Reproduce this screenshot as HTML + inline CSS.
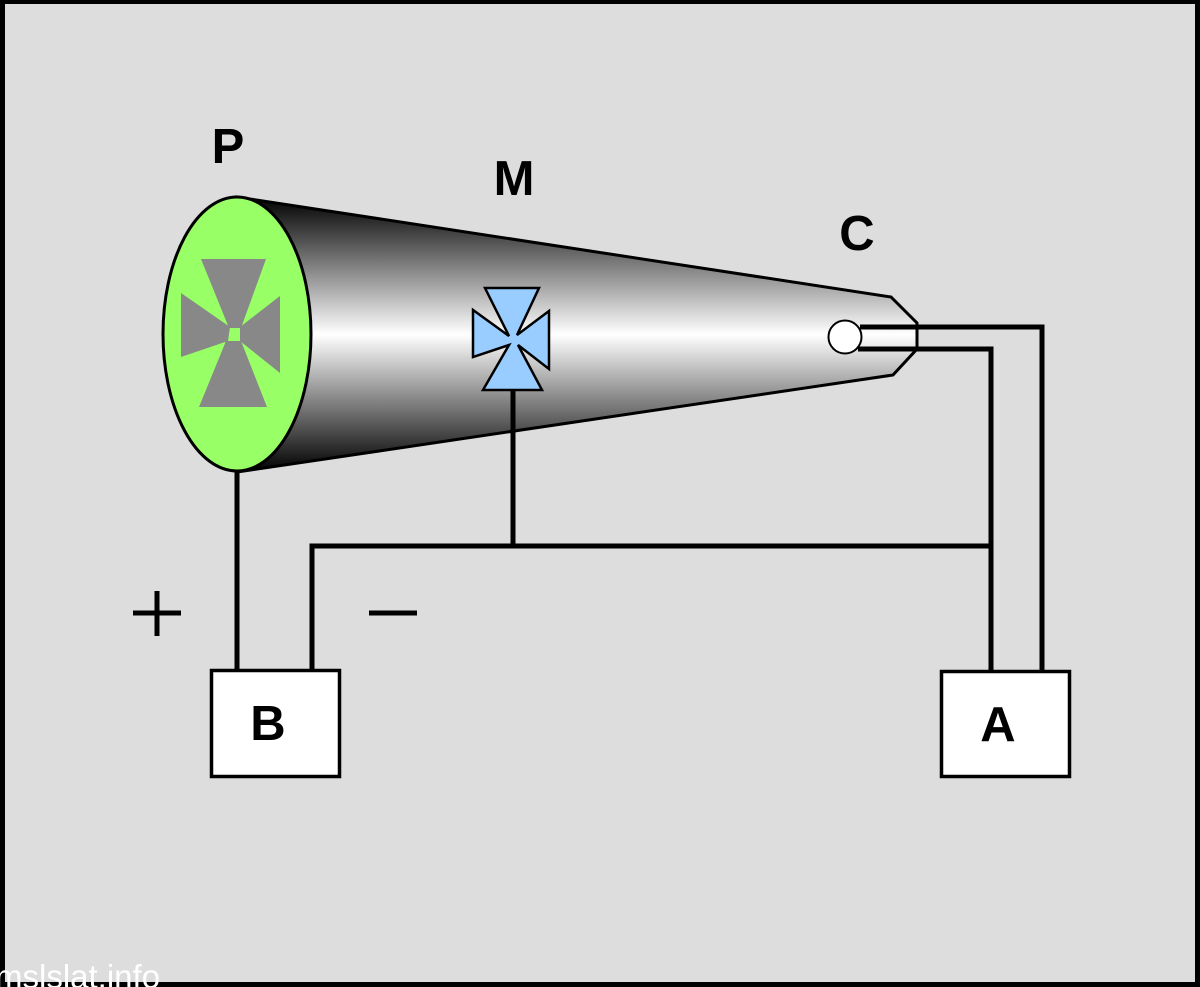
<!DOCTYPE html>
<html><head><meta charset="utf-8"><style>html,body{margin:0;padding:0;background:#000}svg{display:block}</style></head>
<body>
<svg width="1200" height="987" viewBox="0 0 1200 987" xmlns="http://www.w3.org/2000/svg">
<defs>
<linearGradient id="g" x1="0" y1="197" x2="0" y2="472" gradientUnits="userSpaceOnUse">
<stop offset="0" stop-color="#000"/>
<stop offset="0.5" stop-color="#fff"/>
<stop offset="1" stop-color="#000"/>
</linearGradient>
</defs>
<rect x="0" y="0" width="1200" height="987" fill="#000"/>
<rect x="5" y="4" width="1190" height="978" fill="#dddddd"/>
<path d="M237,197 L891,297 L917,323 L917,349 L893,375 L237,472 Z" fill="url(#g)" stroke="#000" stroke-width="3"/>
<ellipse cx="237" cy="334" rx="74" ry="137" fill="#99ff66" stroke="#000" stroke-width="3"/>
<g fill="#888">
<polygon points="201,259 266,259 241,328 229,328"/>
<polygon points="199,407 267,407 241,341 226,341"/>
<polygon points="181,293 181,357 228,341 230,327"/>
<polygon points="280,296 280,373 240,341 240,327"/>
</g>
<path d="M485,288 L539,288 L517,335 L549,311 L549,369 L518,345 L542,390 L483,390 L509,345 L473,357 L473,310 L509,336 Z" fill="#99ccff" stroke="#000" stroke-width="2.5"/>
<g fill="none" stroke="#000" stroke-width="5">
<path d="M860,327 L1042,327 L1042,670"/>
<path d="M858,349 L991,349 L991,670"/>
<path d="M312,670 L312,546 L991,546"/>
<path d="M513,390 L513,546"/>
<path d="M237,472 L237,670"/>
<path d="M133,613 L181,613 M157,591 L157,636"/>
<path d="M369,613 L417,613"/>
</g>
<circle cx="845" cy="337" r="16.5" fill="#fff" stroke="#000" stroke-width="2"/>
<rect x="211.5" y="670.5" width="128" height="106" fill="#fff" stroke="#000" stroke-width="3.5"/>
<rect x="941.5" y="671.5" width="128" height="105" fill="#fff" stroke="#000" stroke-width="3.5"/>
<g font-family="Liberation Sans, sans-serif" font-weight="bold" font-size="49" text-anchor="middle" fill="#000">
<text x="228" y="163">P</text>
<text x="514" y="195">M</text>
<text x="857" y="250">C</text>
<text x="268" y="740">B</text>
<text x="998" y="741">A</text>
</g>
<text x="-5" y="988" font-family="Liberation Sans, sans-serif" font-size="33" fill="#fff">mslslat.info</text>
</svg>
</body></html>
